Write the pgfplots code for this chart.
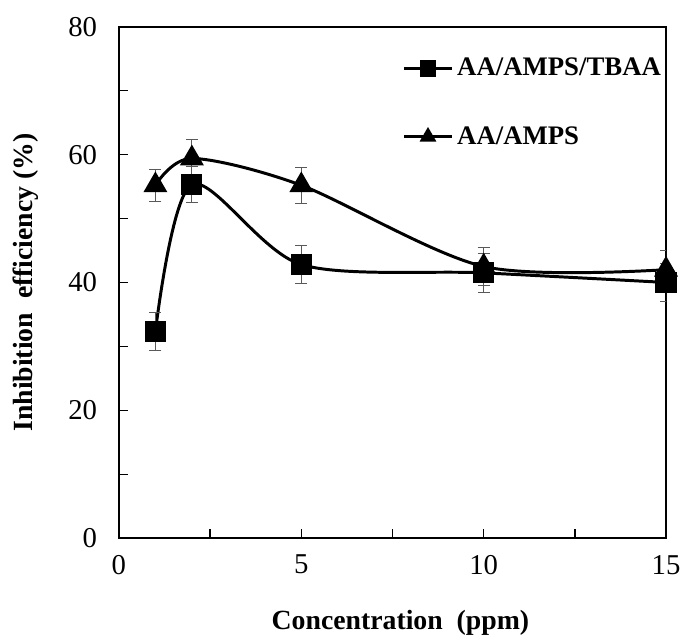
\documentclass[border=0pt]{standalone}
\usepackage{fontspec}
\setmainfont{Liberation Serif}
\usepackage{pgfplots}
\pgfplotsset{compat=1.18}

\begin{document}
\begin{tikzpicture}
\begin{axis}[
  name=main,
  scale only axis,
  width=276pt, height=258pt,
  xmin=0, xmax=15, ymin=0, ymax=80,
  xtick={0,5,10,15}, ytick={0,20,40,60,80},
  minor x tick num=1, minor y tick num=1,
  xtick pos=bottom, ytick pos=left,
  tick align=inside,
  major tick length=4.5pt, minor tick length=4.5pt,
  axis line style={line width=0.8pt},
  every tick/.style={line width=0.7pt, black},
  tick label style={font=\fontsize{14.5}{16}\selectfont},
  /pgf/number format/assume math mode=true,
  xticklabel style={yshift=-5pt},
  yticklabel style={xshift=-7.5pt},
  xlabel={\textbf{Concentration\ \ (ppm)}},
  ylabel={\textbf{Inhibition\ \ efficiency (\%)}},
  xlabel style={font=\fontsize{14}{16}\selectfont, yshift=-11pt, xshift=4pt},
  ylabel style={font=\fontsize{14}{16}\selectfont, yshift=8pt},
  legend style={draw=none, fill=none, at={(rel axis cs:0.518,0.955)}, anchor=north west,
    font=\bfseries\fontsize{13.5}{15}\selectfont, row sep=20pt, legend cell align=left,
    inner xsep=0pt},
  legend image code/.code={%
    \draw[mark repeat=2, mark phase=2, #1, mark size=3.4pt]
      plot coordinates {(0pt,0pt) (12pt,0pt) (24pt,0pt)};},
  legend image post style={line width=1.5pt},
  error bars/error bar style={line width=0.5pt, black!65, solid},
  error bars/error mark options={rotate=90, mark size=3pt, line width=0.5pt, black!65},
]
\addplot[black, line width=1.5pt, smooth, tension=0.5, mark=square*, mark size=4.6pt,
  mark options={solid, fill=black},
  error bars/.cd, y dir=both, y explicit]
  coordinates {(1,32.3) +- (0,3.0) (2,55.3) +- (0,2.8) (5,42.8) +- (0,3.0) (10,41.5) +- (0,3.0) (15,40.0) +- (0,3.0)};
\addlegendentry{AA/AMPS/TBAA}
\addplot[black, line width=1.5pt, smooth, tension=0.5, mark=triangle*, mark size=5.5pt,
  mark options={solid, fill=black},
  error bars/.cd, y dir=both, y explicit]
  coordinates {(1,55.2) +- (0,2.5) (2,59.4) +- (0,3.0) (5,55.2) +- (0,2.8) (10,42.5) +- (0,3.0) (15,42.0) +- (0,3.0)};
\addlegendentry{AA/AMPS}
\end{axis}
\path ([xshift=-60pt, yshift=-46pt]main.south west) rectangle ([xshift=7.5pt, yshift=13.5pt]main.north east);
\end{tikzpicture}
\end{document}
